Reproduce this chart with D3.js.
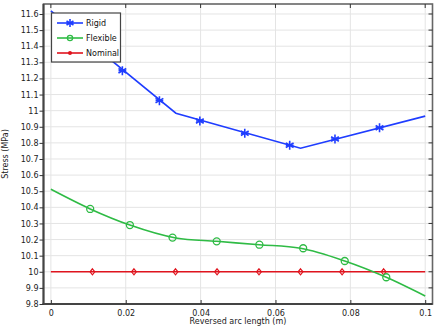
<!DOCTYPE html>
<html><head><meta charset="utf-8">
<script src="https://cdn.jsdelivr.net/npm/d3@7"></script>
<style>body{margin:0;background:#fff}svg{display:block}text{font-family:"DejaVu Sans",sans-serif}</style>
</head><body><svg id="c" width="441" height="333"></svg>
<script>
const xTicks = [0, 0.02, 0.04, 0.06, 0.08, 0.1];
const yTicks = [9.8, 9.9, 10, 10.1, 10.2, 10.3, 10.4, 10.5, 10.6, 10.7, 10.8, 10.9, 11, 11.1, 11.2, 11.3, 11.4, 11.5, 11.6];
const seriesNames = ["Rigid", "Flexible", "Nominal"];
const rigidX = [0, 0.0334, 0.0667, 0.1];
const rigidY = [11.62, 10.984, 10.767, 10.966];
const rigidMarkX = [0.0191, 0.029, 0.0398, 0.0518, 0.0638, 0.0759, 0.0878];
const rigidMarkY = [11.248, 11.062, 10.936, 10.86, 10.785, 10.824, 10.894];
const flexX = [0, 0.0105, 0.0211, 0.0334, 0.0443, 0.0557, 0.0667, 0.0785, 0.0896, 0.1];
const flexY = [10.512, 10.39, 10.29, 10.21, 10.189, 10.168, 10.146, 10.067, 9.966, 9.85];
const flexMarkX = [0.0105, 0.0211, 0.0325, 0.0443, 0.0557, 0.0674, 0.0785, 0.0896];
const flexMarkY = [10.39, 10.29, 10.212, 10.189, 10.168, 10.146, 10.067, 9.966];
const nomX = [0, 0.1];
const nomY = [10, 10];
const nomMarkX = [0.0111, 0.0222, 0.0333, 0.0444, 0.0556, 0.0667, 0.0778, 0.0889];
const nomMarkY = [10, 10, 10, 10, 10, 10, 10, 10];

const colors = {Rigid: "#1f3dff", Flexible: "#2fbb45", Nominal: "#e0141e"};
const L = 43.5, T = 4, R = 432.5, B = 304;
const x = d3.scaleLinear().domain([-0.00197, 0.10195]).range([L, R]);
const y = d3.scaleLinear().domain([9.8, 11.662]).range([B, T]);
const svg = d3.select("#c");

// grid
svg.append("g").selectAll("line").data(xTicks).join("line")
  .attr("x1", d => x(d)).attr("x2", d => x(d)).attr("y1", T).attr("y2", B)
  .attr("stroke", "#e4e4e4").attr("stroke-width", 1);
svg.append("g").selectAll("line").data(yTicks).join("line")
  .attr("y1", d => y(d)).attr("y2", d => y(d)).attr("x1", L).attr("x2", R)
  .attr("stroke", "#e4e4e4").attr("stroke-width", 1);

const clip = svg.append("clipPath").attr("id", "pc").append("rect")
  .attr("x", L).attr("y", T).attr("width", R - L).attr("height", B - T);
const plot = svg.append("g").attr("clip-path", "url(#pc)");

const zip = (a, b) => a.map((v, i) => [v, b[i]]);
const lineLin = d3.line().x(d => x(d[0])).y(d => y(d[1]));
const lineCurve = d3.line().x(d => x(d[0])).y(d => y(d[1])).curve(d3.curveMonotoneX);

plot.append("path").attr("d", lineLin(zip(nomX, nomY))).attr("fill", "none").attr("stroke", colors.Nominal).attr("stroke-width", 1.6);
plot.append("path").attr("d", lineCurve(zip(flexX, flexY))).attr("fill", "none").attr("stroke", colors.Flexible).attr("stroke-width", 1.6);
plot.append("path").attr("d", lineLin(zip(rigidX, rigidY))).attr("fill", "none").attr("stroke", colors.Rigid).attr("stroke-width", 1.6);

function star(g, cx, cy, r, col) {
  const a = [0, 60, 120].map(t => t * Math.PI / 180);
  a.forEach(t => g.append("line")
    .attr("x1", cx - r * Math.sin(t)).attr("y1", cy - r * Math.cos(t))
    .attr("x2", cx + r * Math.sin(t)).attr("y2", cy + r * Math.cos(t))
    .attr("stroke", col).attr("stroke-width", 1.6));
  g.append("line").attr("x1", cx - r * 0.85).attr("x2", cx + r * 0.85).attr("y1", cy).attr("y2", cy)
    .attr("stroke", col).attr("stroke-width", 1.6);
}
function circ(g, cx, cy, r, col) {
  g.append("circle").attr("cx", cx).attr("cy", cy).attr("r", r).attr("fill", "none").attr("stroke", col).attr("stroke-width", 1.3);
}
function diam(g, cx, cy, r, col) {
  g.append("path").attr("d", `M${cx},${cy - r}L${cx + r * 0.8},${cy}L${cx},${cy + r}L${cx - r * 0.8},${cy}Z`)
    .attr("fill", "none").attr("stroke", col).attr("stroke-width", 1.2);
}
nomMarkX.forEach((v, i) => diam(plot, x(v), y(nomMarkY[i]), 3, colors.Nominal));
flexMarkX.forEach((v, i) => circ(plot, x(v), y(flexMarkY[i]), 3.5, colors.Flexible));
rigidMarkX.forEach((v, i) => star(plot, x(v), y(rigidMarkY[i]), 4.5, colors.Rigid));

// frame
svg.append("rect").attr("x", L).attr("y", T).attr("width", R - L).attr("height", B - T)
  .attr("fill", "none").attr("stroke", "#666").attr("stroke-width", 1.6);
svg.append("line").attr("x1", L).attr("x2", L).attr("y1", T).attr("y2", B + 1).attr("stroke", "#444").attr("stroke-width", 2);
svg.append("line").attr("x1", L - 1).attr("x2", R).attr("y1", B).attr("y2", B).attr("stroke", "#444").attr("stroke-width", 2);

// axes
const yAxis = d3.axisLeft(y).tickValues(yTicks).tickSize(4).tickFormat(d => d3.format("~g")(d));
const gy = svg.append("g").attr("transform", `translate(${L},0)`).call(yAxis);
gy.select(".domain").remove();
gy.selectAll(".tick line").attr("stroke", "#333");
gy.selectAll("text").attr("font-size", 8).attr("fill", "#222").attr("x", -5);
const xAxis = d3.axisBottom(x).tickValues(xTicks).tickSize(-4).tickFormat(d => d3.format("~g")(d));
const gx = svg.append("g").attr("transform", `translate(0,${B})`).call(xAxis);
gx.select(".domain").remove();
gx.selectAll(".tick line").attr("stroke", "#333");
gx.selectAll("text").attr("font-size", 8).attr("fill", "#222").attr("y", 6);
// top/right inner ticks
svg.append("g").selectAll("line").data(xTicks).join("line")
  .attr("x1", d => x(d)).attr("x2", d => x(d)).attr("y1", T).attr("y2", T + 4).attr("stroke", "#333");
svg.append("g").selectAll("line").data(yTicks).join("line")
  .attr("y1", d => y(d)).attr("y2", d => y(d)).attr("x1", R - 4).attr("x2", R).attr("stroke", "#333");

svg.append("text").attr("x", (L + R) / 2).attr("y", 324).attr("text-anchor", "middle")
  .attr("font-size", 8).attr("fill", "#222").text("Reversed arc length (m)");
svg.append("text").attr("transform", `translate(8,${(T + B) / 2}) rotate(-90)`).attr("text-anchor", "middle")
  .attr("font-size", 8).attr("fill", "#222").text("Stress (MPa)");

// legend
const lg = svg.append("g");
lg.append("rect").attr("x", 51.5).attr("y", 13).attr("width", 69).attr("height", 49)
  .attr("fill", "#fff").attr("stroke", "#444").attr("stroke-width", 1.2);
seriesNames.forEach((n, i) => {
  const yy = 23 + i * 15;
  lg.append("line").attr("x1", 57).attr("x2", 83).attr("y1", yy).attr("y2", yy).attr("stroke", colors[n]).attr("stroke-width", 1.6);
  if (n === "Rigid") star(lg, 70, yy, 4, colors[n]);
  else if (n === "Flexible") circ(lg, 70, yy, 2.6, colors[n]);
  else lg.append("circle").attr("cx", 70).attr("cy", yy).attr("r", 2).attr("fill", colors[n]);
  lg.append("text").attr("x", 86).attr("y", yy + 3).attr("font-size", 8).attr("fill", "#111").text(n);
});
</script></body></html>
